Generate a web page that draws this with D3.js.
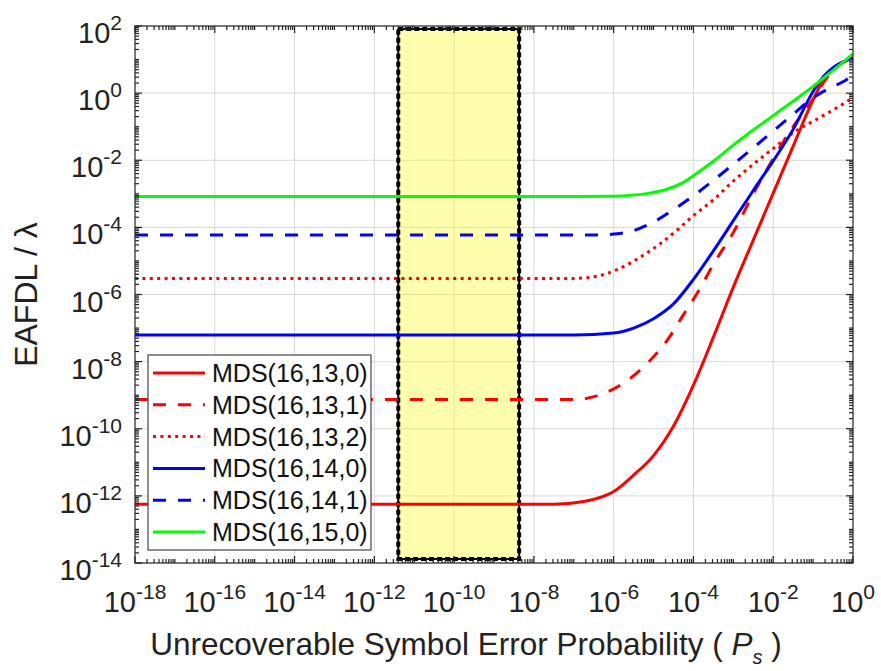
<!DOCTYPE html>
<html>
<head>
<meta charset="utf-8">
<script src="https://cdn.jsdelivr.net/npm/d3@7"></script>
<style>
  body { margin: 0; background: #fff; }
  svg { display: block; font-family: "Liberation Sans", Arial, Helvetica, sans-serif; }
</style>
</head>
<body>
<div id="chart"></div>
<script>
// points: [log10(Ps), log10(EAFDL/lambda)]
const mds16_13_0 = [[-18,-12.25],[-7.5,-12.25],[-6.75,-12.17],[-6.4,-12.07],[-6,-11.87],[-5.5,-11.38],[-5,-10.8],[-4.5,-9.92],[-4,-8.7],[-3.5,-7.27],[-3,-5.78],[-2.5,-4.38],[-2,-2.98],[-1.5,-1.58],[-1,-0.2],[-0.66,0.55],[-0.33,0.88],[0,1.05]];
const mds16_13_1 = [[-18,-9.13],[-7,-9.13],[-6.3,-8.97],[-5.7,-8.6],[-5.1,-7.98],[-4.65,-7.35],[-4.25,-6.6],[-3.9,-5.95],[-3.5,-5.1],[-3,-4.15],[-2.5,-3.0],[-2,-1.95],[-1.5,-1.0],[-1,-0.18],[-0.66,0.45],[-0.33,0.85],[0,1.05]];
const mds16_13_2 = [[-18,-5.52],[-7,-5.52],[-6.4,-5.45],[-5.9,-5.25],[-5.35,-4.9],[-4.85,-4.5],[-4.35,-4.02],[-4,-3.65],[-3.5,-3.18],[-3,-2.62],[-2.5,-2.12],[-2,-1.65],[-1.5,-1.18],[-1,-0.84],[-0.5,-0.5],[0,-0.14]];
const mds16_14_0 = [[-18,-7.21],[-7,-7.21],[-6,-7.15],[-5.5,-7.0],[-5,-6.72],[-4.5,-6.28],[-4,-5.55],[-3.5,-4.7],[-3,-3.8],[-2.5,-2.9],[-2,-2.02],[-1.5,-1.08],[-1,0.05],[-0.75,0.48],[-0.5,0.76],[-0.25,0.93],[0,1.05]];
const mds16_14_1 = [[-18,-4.23],[-6.5,-4.23],[-6,-4.2],[-5.6,-4.13],[-5,-3.84],[-4.5,-3.47],[-4,-3.06],[-3.5,-2.6],[-3,-2.12],[-2.5,-1.63],[-2,-1.13],[-1.5,-0.63],[-1,-0.14],[-0.5,0.2],[-0.25,0.34],[0,0.54]];
const mds16_15_0 = [[-18,-3.08],[-7,-3.08],[-6,-3.07],[-5.1,-2.98],[-4.7,-2.88],[-4.3,-2.69],[-3.95,-2.42],[-3.5,-2.03],[-3,-1.55],[-2.5,-1.1],[-2,-0.67],[-1.5,-0.24],[-1,0.2],[-0.5,0.68],[0,1.17]];

const seriesNames = ['MDS(16,13,0)', 'MDS(16,13,1)', 'MDS(16,13,2)', 'MDS(16,14,0)', 'MDS(16,14,1)', 'MDS(16,15,0)'];
const seriesData = [mds16_13_0, mds16_13_1, mds16_13_2, mds16_14_0, mds16_14_1, mds16_15_0];
const seriesColors = ['#ff0000', '#ff0000', '#ff0000', '#0000ff', '#0000ff', '#00ff00'];
const seriesDash = ['none', '13,12', '3,4.4', 'none', '13,12', 'none'];

// highlighted band (log10 bounds)
const bandX = [-11.4, -8.37];
const bandY = [-13.88, 1.91];

const xTickExp = [-18, -16, -14, -12, -10, -8, -6, -4, -2, 0];
const yTickExp = [2, 0, -2, -4, -6, -8, -10, -12, -14];

const W = 881, H = 671;
const pLeft = 135, pRight = 853, pTop = 26, pBottom = 563;

const svg = d3.select('#chart').append('svg')
    .attr('width', W)
    .attr('height', H);

const x = d3.scaleLog().domain([1e-18, 1]).range([pLeft, pRight]);
const y = d3.scaleLog().domain([1e-14, 1e2]).range([pBottom, pTop]);
const p10 = e => Math.pow(10, e);

// grid
const grid = svg.append('g').attr('stroke', '#d8d8d8').attr('stroke-width', 1);
xTickExp.slice(1, -1).forEach(e => {
    grid.append('line').attr('x1', x(p10(e))).attr('x2', x(p10(e))).attr('y1', pTop).attr('y2', pBottom);
});
yTickExp.slice(1, -1).forEach(e => {
    grid.append('line').attr('x1', pLeft).attr('x2', pRight).attr('y1', y(p10(e))).attr('y2', y(p10(e)));
});

// yellow band
const band = svg.append('g');
const bx0 = x(p10(bandX[0])), bx1 = x(p10(bandX[1]));
const by0 = y(p10(bandY[1])), by1 = y(p10(bandY[0]));
band.append('rect')
    .attr('x', bx0).attr('y', by0)
    .attr('width', bx1 - bx0).attr('height', by1 - by0)
    .attr('fill', '#ffff00').attr('fill-opacity', 0.32)
    .attr('stroke', '#000').attr('stroke-width', 4).attr('stroke-dasharray', '5,3');
band.append('rect')
    .attr('x', bx0).attr('y', by0)
    .attr('width', bx1 - bx0).attr('height', by1 - by0)
    .attr('fill', 'none')
    .attr('stroke', '#000').attr('stroke-width', 2);

// curves
const line = d3.line()
    .x(d => x(p10(d[0])))
    .y(d => y(p10(d[1])))
    .curve(d3.curveMonotoneX);

const plot = svg.append('g');
plot.append('clipPath').attr('id', 'clip')
    .append('rect').attr('x', pLeft).attr('y', pTop).attr('width', pRight - pLeft).attr('height', pBottom - pTop);
seriesData.forEach((s, i) => {
    plot.append('path')
        .datum(s)
        .attr('clip-path', 'url(#clip)')
        .attr('d', line)
        .attr('fill', 'none')
        .attr('stroke', seriesColors[i])
        .attr('stroke-width', 3)
        .attr('stroke-dasharray', seriesDash[i]);
});

// axes box + ticks (inside, all four sides)
const axis = svg.append('g').attr('stroke', '#222').attr('stroke-width', 1.2);
axis.append('rect').attr('x', pLeft).attr('y', pTop).attr('width', pRight - pLeft).attr('height', pBottom - pTop).attr('fill', 'none');

const xMinor = [], yMinor = [];
for (let n = -18; n < 0; n++) for (let k = 1; k <= 9; k++) {
    if (k === 1 && n % 2 === 0) continue;
    xMinor.push(k * p10(n));
}
for (let n = -14; n < 2; n++) for (let k = 1; k <= 9; k++) {
    if (k === 1 && n % 2 === 0) continue;
    yMinor.push(k * p10(n));
}
const majLen = 7, minLen = 4;
xTickExp.forEach(e => {
    const px = x(p10(e));
    axis.append('line').attr('x1', px).attr('x2', px).attr('y1', pBottom).attr('y2', pBottom - majLen);
    axis.append('line').attr('x1', px).attr('x2', px).attr('y1', pTop).attr('y2', pTop + majLen);
});
xMinor.forEach(v => {
    const px = x(v);
    axis.append('line').attr('x1', px).attr('x2', px).attr('y1', pBottom).attr('y2', pBottom - minLen);
    axis.append('line').attr('x1', px).attr('x2', px).attr('y1', pTop).attr('y2', pTop + minLen);
});
yTickExp.forEach(e => {
    const py = y(p10(e));
    axis.append('line').attr('x1', pLeft).attr('x2', pLeft + majLen).attr('y1', py).attr('y2', py);
    axis.append('line').attr('x1', pRight).attr('x2', pRight - majLen).attr('y1', py).attr('y2', py);
});
yMinor.forEach(v => {
    const py = y(v);
    axis.append('line').attr('x1', pLeft).attr('x2', pLeft + minLen).attr('y1', py).attr('y2', py);
    axis.append('line').attr('x1', pRight).attr('x2', pRight - minLen).attr('y1', py).attr('y2', py);
});

// tick labels
const tickFont = 29, supFont = 21;
xTickExp.forEach(e => {
    const t = svg.append('text')
        .attr('x', x(p10(e)))
        .attr('y', 612)
        .attr('text-anchor', 'middle')
        .attr('fill', '#222')
        .attr('font-size', tickFont);
    t.append('tspan').text('10');
    t.append('tspan').attr('dy', -13).attr('font-size', supFont).text(e);
});
yTickExp.forEach(e => {
    const t = svg.append('text')
        .attr('x', 122)
        .attr('y', y(p10(e)) + 17)
        .attr('text-anchor', 'end')
        .attr('fill', '#222')
        .attr('font-size', tickFont);
    t.append('tspan').text('10');
    t.append('tspan').attr('dy', -13).attr('font-size', supFont).text(e);
});

// axis labels
const xl = svg.append('text')
    .attr('x', 466)
    .attr('y', 655)
    .attr('text-anchor', 'middle')
    .attr('fill', '#222')
    .attr('font-size', 31.5);
xl.append('tspan').text('Unrecoverable Symbol Error Probability ( ');
xl.append('tspan').attr('font-style', 'italic').text('P');
xl.append('tspan').attr('font-size', 20).attr('dy', 9).attr('font-style', 'italic').text('s');
xl.append('tspan').attr('dy', -9).text(' )');

svg.append('text')
    .attr('transform', `translate(37,${(pTop + pBottom) / 2}) rotate(-90)`)
    .attr('text-anchor', 'middle')
    .attr('fill', '#222')
    .attr('font-size', 32)
    .text('EAFDL / λ');

// legend
const legend = svg.append('g');
legend.append('rect')
    .attr('x', 148).attr('y', 355).attr('width', 223).attr('height', 195)
    .attr('fill', '#fff').attr('stroke', '#444').attr('stroke-width', 1.2);
seriesNames.forEach((name, i) => {
    const ry = 373 + i * 31.8;
    legend.append('line')
        .attr('x1', 153).attr('x2', 205).attr('y1', ry).attr('y2', ry)
        .attr('stroke', seriesColors[i])
        .attr('stroke-width', 3)
        .attr('stroke-dasharray', seriesDash[i]);
    legend.append('text')
        .attr('x', 212).attr('y', ry + 9)
        .attr('fill', '#111')
        .attr('font-size', 25)
        .text(name);
});
</script>
</body>
</html>
